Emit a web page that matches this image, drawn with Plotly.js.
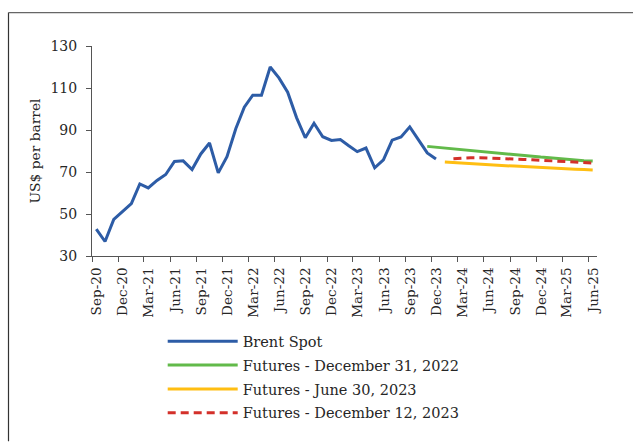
<!DOCTYPE html>
<html>
<head>
<meta charset="utf-8">
<script src="https://cdn.plot.ly/plotly-3.0.1.min.js"></script>
<style>html,body{margin:0;padding:0;background:#fff;}#chart{width:633px;height:442px;}</style>
</head>
<body>
<div id="chart"></div>
<script>
// Brent spot, monthly (Sep-20 .. Dec-23)
const spotMonths = ["2020-09","2020-10","2020-11","2020-12","2021-01","2021-02","2021-03","2021-04","2021-05","2021-06",
  "2021-07","2021-08","2021-09","2021-10","2021-11","2021-12","2022-01","2022-02","2022-03","2022-04",
  "2022-05","2022-06","2022-07","2022-08","2022-09","2022-10","2022-11","2022-12","2023-01","2023-02",
  "2023-03","2023-04","2023-05","2023-06","2023-07","2023-08","2023-09","2023-10","2023-11","2023-12"];
const spotValues = [42.8,36.9,47.4,51.0,55.0,64.3,62.4,66.0,68.8,75.0,
  75.3,71.2,78.6,83.8,69.6,77.3,90.7,100.9,106.6,106.6,
  120.0,114.8,108.0,95.9,86.3,93.2,86.8,85.0,85.5,82.5,
  79.7,81.4,72.0,75.8,85.2,86.7,91.5,85.3,79.1,76.2];

// Futures curve as of December 31, 2022 (Nov-23 .. Jun-25)
const futDec22Months = ["2023-11","2023-12","2024-01","2024-02","2024-03","2024-04","2024-05","2024-06","2024-07","2024-08",
  "2024-09","2024-10","2024-11","2024-12","2025-01","2025-02","2025-03","2025-04","2025-05","2025-06"];
const futDec22Values = [82.2,81.8,81.3,80.9,80.5,80.1,79.6,79.2,78.9,78.6,
  78.3,77.9,77.5,77.1,76.8,76.4,76.0,75.7,75.4,75.2];

// Futures curve as of June 30, 2023 (Jan-24 .. Jun-25)
const futJun23Months = ["2024-01","2024-02","2024-03","2024-04","2024-05","2024-06","2024-07","2024-08","2024-09",
  "2024-10","2024-11","2024-12","2025-01","2025-02","2025-03","2025-04","2025-05","2025-06"];
const futJun23Values = [74.8,74.5,74.3,74.0,73.8,73.5,73.25,73.0,72.8,
  72.55,72.3,72.1,71.9,71.7,71.5,71.35,71.2,71.0];

// Futures curve as of December 12, 2023 (Feb-24 .. Jun-25)
const futDec23Months = ["2024-02","2024-03","2024-04","2024-05","2024-06","2024-07","2024-08","2024-09",
  "2024-10","2024-11","2024-12","2025-01","2025-02","2025-03","2025-04","2025-05","2025-06"];
const futDec23Values = [76.3,76.6,76.8,76.8,76.7,76.5,76.4,76.2,
  76.0,75.8,75.6,75.4,75.1,74.9,74.7,74.5,74.3];

const seriesNames = ["Brent Spot","Futures - December 31, 2022","Futures - June 30, 2023","Futures - December 12, 2023"];
const yTicks = [30,50,70,90,110,130];

const FONT = "DejaVu Serif";
function tr(x, y, name, color, dash, grp) {
  return {x: x, y: y, name: name, type: "scatter", mode: "lines",
    xperiod: "M1", xperiodalignment: "middle", legendgroup: grp,
    line: {color: color, width: 3, dash: dash}, hoverinfo: "skip"};
}
const data = [
  tr(spotMonths, spotValues, seriesNames[0], "#2D5CA6", "solid", "a"),
  tr(futDec22Months, futDec22Values, seriesNames[1], "#62BA4A", "solid", "b"),
  tr(futJun23Months, futJun23Values, seriesNames[2], "#FFBE12", "solid", "c"),
  tr(futDec23Months, futDec23Values, seriesNames[3], "#D3302A", "8px,5px", "d")
];

const axisColor = "#555555";
const L = 92, T = 46, W = 505, H = 212;
const layout = {
  width: 633, height: 442,
  margin: {l: L, r: 633 - L - W, t: T, b: 442 - T - H},
  paper_bgcolor: "#ffffff", plot_bgcolor: "#ffffff",
  font: {family: FONT, size: 14, color: "#262626"},
  showlegend: true,
  xaxis: {
    type: "date", range: ["2020-09-01", "2025-07-01"],
    tick0: "2020-09-01", dtick: "M3", tickformat: "%b-%y",
    tickangle: -90, ticks: "outside", ticklen: 5, tickcolor: axisColor,
    showline: true, linecolor: axisColor, linewidth: 1,
    showgrid: false, zeroline: false, ticklabelshift: 5, automargin: false,
    tickfont: {family: FONT, size: 13.6, color: "#262626"}
  },
  yaxis: {
    range: [30, 130], tickvals: yTicks, ticks: "outside", ticklen: 5, tickcolor: axisColor,
    showline: true, linecolor: axisColor, linewidth: 1, showgrid: false, zeroline: false,
    ticklabelstandoff: 6, automargin: false,
    tickfont: {family: FONT, size: 14, color: "#262626"},
    title: {text: "US$ per barrel", standoff: 6, font: {family: FONT, size: 13.8, color: "#262626"}}
  },
  legend: {
    x: (162.7 - L) / W, y: (T + H - 328) / H, xanchor: "left", yanchor: "top",
    bgcolor: "rgba(0,0,0,0)", traceorder: "grouped", tracegroupgap: 2,
    itemwidth: 70, font: {family: FONT, size: 14.5, color: "#262626"}
  },
  shapes: [
    {type: "line", xref: "paper", yref: "paper", x0: (8.5-L)/W, x1: (8.5-L)/W, y0: (T+H-12.3)/H, y1: (T+H-445)/H,
      line: {color: "#333333", width: 1.2}},
    {type: "line", xref: "paper", yref: "paper", x0: (8.5-L)/W, x1: (640-L)/W, y0: (T+H-12.3)/H, y1: (T+H-12.3)/H,
      line: {color: "#666666", width: 1.2}}
  ]
};
Plotly.newPlot("chart", data, layout, {displayModeBar: false, staticPlot: true});
</script>
</body>
</html>
